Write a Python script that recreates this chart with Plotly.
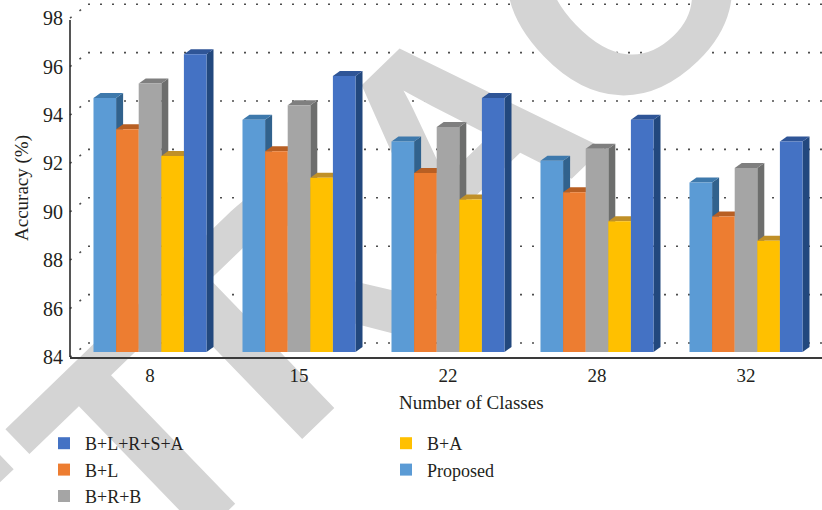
import plotly.graph_objects as go

# ---- data -----------------------------------------------------------------
classes = ["8", "15", "22", "28", "32"]
methods = ["Proposed", "B+L", "B+R+B", "B+A", "B+L+R+S+A"]
acc_proposed = [94.5, 93.6, 92.7, 91.9, 91.0]
acc_bl = [93.2, 92.3, 91.4, 90.6, 89.6]
acc_brb = [95.1, 94.2, 93.3, 92.4, 91.6]
acc_ba = [92.1, 91.2, 90.3, 89.4, 88.6]
acc_blrsa = [96.3, 95.4, 94.5, 93.6, 92.7]
y_ticks = [84, 86, 88, 90, 92, 94, 96, 98]
y_floor = 84

series = [acc_proposed, acc_bl, acc_brb, acc_ba, acc_blrsa]
legend_rank = {"B+L+R+S+A": 1, "B+A": 2, "B+L": 3, "Proposed": 4, "B+R+B": 5}

# ---- styling ----------------------------------------------------------------
front_colors = ["#5B9BD5", "#ED7D31", "#A5A5A5", "#FFC000", "#4472C4"]
top_colors = ["#3E79AC", "#B85F23", "#7F7F7F", "#C09028", "#2F5597"]
side_colors = ["#31628D", "#A9541C", "#6D6E6D", "#A8801A", "#22487E"]
SERIF = "Liberation Serif"
TEXT = "#231F20"

W, H = 822, 510
ML, MR, MT, MB = 70, 0, 0, 153
PW, PH = W - ML - MR, H - MT - MB

# pixel scales of the axes
X_PPU = 149.0            # pixels per category step
Y_PPU = 24.2             # pixels per accuracy point
x_lo = -(150 - ML) / X_PPU
x_hi = x_lo + PW / X_PPU
y_lo = y_floor - 5 / Y_PPU
y_hi = y_lo + PH / Y_PPU

# oblique depth of the pseudo-3D columns and of the back wall
bar_w = 0.1517
dx = 7 / X_PPU
dy = 5 / Y_PPU
wall_dx_px = 18
wall_dy = 14 / Y_PPU

positions = list(range(len(classes)))

fig = go.Figure()
shapes = []

# back-wall dotted gridlines plus the short side-wall diagonals
for v in y_ticks:
    yb = v - 5 / Y_PPU + wall_dy
    shapes.append(dict(type="line", xref="paper", yref="y", layer="between",
                       x0=wall_dx_px / PW, x1=1, y0=yb, y1=yb,
                       line=dict(color="#4d4d4d", width=1.6, dash="2px,10px")))
    shapes.append(dict(type="line", xref="paper", yref="y", layer="between",
                       x0=0, x1=wall_dx_px / PW, y0=v - 5 / Y_PPU, y1=yb,
                       line=dict(color="#4d4d4d", width=1.6, dash="2px,10px")))

for i, (name, vals) in enumerate(zip(methods, series)):
    off = -2.5 * bar_w + i * bar_w
    fig.add_trace(go.Bar(
        x=positions, y=[v - y_floor for v in vals], base=y_floor,
        width=bar_w, offset=off, name=name,
        marker=dict(color=front_colors[i], line=dict(width=0)),
        legendrank=legend_rank[name],
        customdata=vals, hovertemplate="%{customdata}%<extra>" + name + "</extra>",
    ))
    for p, v in zip(positions, vals):
        L = p + off
        R = L + bar_w
        top = (f"M{L},{v} L{R},{v} L{R + dx},{v + dy} L{L + dx},{v + dy} Z")
        side = (f"M{R},{y_floor} L{R},{v} L{R + dx},{v + dy} "
                f"L{R + dx},{y_floor + dy} Z")
        shapes.append(dict(type="path", xref="x", yref="y", layer="between",
                           path=side, fillcolor=side_colors[i],
                           line=dict(width=0)))
        shapes.append(dict(type="path", xref="x", yref="y", layer="between",
                           path=top, fillcolor=top_colors[i],
                           line=dict(width=0)))

# vertical axis line (stops short of the top like the original frame)
shapes.append(dict(type="line", xref="paper", yref="y", layer="above",
                   x0=0, x1=0, y0=y_floor + (352 - 20) / Y_PPU, y1=y_lo,
                   line=dict(color="#2b2b2b", width=1.6)))

# light diagonal watermark behind everything
wx, wy = (434 - ML) / PW, (PH - 122) / PH
shapes.append(dict(type="rect", xref="paper", yref="paper", layer="below",
                   x0=wx - 0.01, x1=wx + 0.01, y0=wy - 0.01, y1=wy + 0.01,
                   line=dict(width=0), fillcolor="rgba(0,0,0,0)",
                   label=dict(text="RETRACTED", textangle=-44,
                              textposition="middle center",
                              font=dict(family="Liberation Sans", size=310,
                                        color="#D4D4D4", weight="bold"))))

fig.update_layout(
    width=W, height=H,
    margin=dict(l=ML, r=MR, t=MT, b=MB, autoexpand=False),
    paper_bgcolor="white", plot_bgcolor="rgba(0,0,0,0)",
    barmode="overlay",
    font=dict(family=SERIF, color=TEXT, size=19),
    shapes=shapes,
    showlegend=True,
    legend=dict(orientation="h", x=(43 - ML) / PW, xanchor="left",
                y=-68 / PH, yanchor="top",
                entrywidth=295, entrywidthmode="pixels", itemwidth=32,
                font=dict(family=SERIF, size=18, color=TEXT),
                bgcolor="rgba(0,0,0,0)", tracegroupgap=0),
    annotations=[
        dict(text="Number of Classes", xref="paper", yref="paper",
             x=(472 - ML) / PW, y=(PH - 402) / PH, showarrow=False,
             xanchor="center", yanchor="middle",
             font=dict(family=SERIF, size=19, color=TEXT)),
        dict(text="Accuracy (%)", xref="paper", yref="paper",
             x=(22 - ML) / PW, y=(PH - 188) / PH, showarrow=False,
             textangle=-90, xanchor="center", yanchor="middle",
             font=dict(family=SERIF, size=19, color=TEXT)),
    ],
)

fig.update_xaxes(range=[x_lo, x_hi], tickvals=positions, ticktext=classes,
                 showgrid=False, zeroline=False, ticks="",
                 showline=True, linecolor="#3a3a3a", linewidth=2,
                 tickfont=dict(family=SERIF, size=19, color=TEXT),
                 ticklabelstandoff=0)
fig.update_yaxes(range=[y_lo, y_hi], tickvals=y_ticks,
                 showgrid=False, zeroline=False, ticks="", showline=False,
                 tickfont=dict(family=SERIF, size=20, color=TEXT),
                 ticklabelshift=5, ticklabelstandoff=6)

fig.write_html("out.html")
